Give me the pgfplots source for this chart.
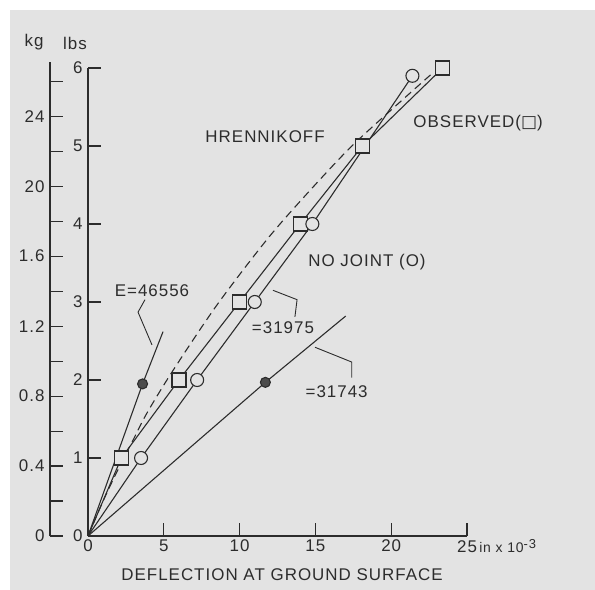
\documentclass[border=0pt]{standalone}
\usepackage{pgfplots}
\pgfplotsset{compat=1.18}
\usepackage{fontspec}
\setmainfont{Liberation Sans}[LetterSpace=6]
\newfontfamily\symfont{DejaVu Sans}
\definecolor{paper}{HTML}{E3E3E3}
\definecolor{ink}{HTML}{2C2C2C}
\begin{document}
\begin{tikzpicture}
% page and paper
\fill[white] (0bp,0bp) rectangle (595bp,590bp);
\fill[paper] (10bp,0bp) rectangle (595bp,580bp);
\useasboundingbox (0bp,0bp) rectangle (595bp,590bp);

% kg scale
\begin{axis}[
  at={(50bp,54bp)}, anchor=south west, scale only axis,
  width=20bp, height=474bp,
  xmin=0, xmax=1, ymin=0, ymax=2.71,
  hide x axis, axis y line*=left,
  axis line style={-, line width=1.1pt, draw=ink},
  tick align=inside, major tick length=13bp, minor tick length=13bp,
  tick style={line width=1.1pt, draw=ink},
  ytick={0,0.4,0.8,1.2,1.6,2.0,2.4},
  yticklabels={0,0.4,0.8,1.2,1.6,20,24},
  minor ytick={0.2,0.6,1.0,1.4,1.8,2.2,2.6},
  yticklabel style={font=\fontsize{17}{20}\selectfont, text=ink, xshift=-2bp},
]
\end{axis}

% lbs scale and data
\begin{axis}[
  at={(88bp,54bp)}, anchor=south west, scale only axis,
  width=379bp, height=468bp,
  xmin=0, xmax=25, ymin=0, ymax=6,
  axis x line*=bottom, axis y line*=left,
  axis line style={-, line width=1.1pt, draw=ink},
  tick align=inside, major tick length=13bp,
  tick style={line width=1.1pt, draw=ink},
  xtick={0,5,10,15,20,25},
  xticklabels={0,5,10,15,20,{25\rlap{\fontsize{14}{16}\selectfont\,in x 10\raisebox{0.55ex}{\fontsize{13}{15}\selectfont -3}}}},
  ytick={0,1,2,3,4,5,6},
  yticklabels={0,1,2,3,4,5,6},
  ticklabel style={font=\fontsize{17}{20}\selectfont, text=ink},
  yticklabel style={xshift=-2bp},
  clip=false,
  every axis plot/.append style={line width=1.1pt, draw=ink},
]
% Hrennikoff theory
\addplot[dashed, dash pattern=on 8bp off 5bp, smooth, tension=0.5, no marks]
  coordinates {(0,0) (1,0.45) (2,0.86) (3,1.24) (3.9,1.58) (5.6,2.12) (8.5,2.96)
               (11.8,3.8) (14.5,4.4) (17.3,4.98) (20.1,5.48) (22.7,5.93)};
% observed
\addplot[sharp plot, mark=square*, mark size=7bp, mark indices={2,3,4,5,6,7},
  mark options={solid, fill=paper, draw=ink, line width=1.1pt}]
  coordinates {(0,0) (2.2,1) (6,2) (10,3) (14,4) (18.1,5) (23.4,6)};
% no joint
\addplot[sharp plot, mark=*, mark size=6.5bp, mark indices={2,3,4,5,6},
  mark options={solid, fill=paper, draw=ink, line width=1.1pt}]
  coordinates {(0,0) (3.5,1) (7.2,2) (11,3) (14.8,4) (21.4,5.9)};
% E = 46556
\addplot[sharp plot, mark=*, mark size=5bp, mark indices={2},
  mark options={fill=ink!85, draw=ink}]
  coordinates {(0,0) (3.6,1.95) (4.95,2.62)};
% E = 31743
\addplot[sharp plot, mark=*, mark size=5bp, mark indices={2},
  mark options={fill=ink!85, draw=ink}]
  coordinates {(0,0) (11.7,1.97) (17.0,2.82)};

% leaders
\draw[ink, line width=0.9pt] (axis cs:3.76,3.03) -- (axis cs:3.3,2.87) -- (axis cs:4.22,2.45);
\draw[ink, line width=0.9pt] (axis cs:12.2,3.15) -- (axis cs:13.79,3.03) -- (axis cs:13.65,2.81);
\draw[ink, line width=0.9pt] (axis cs:14.97,2.42) -- (axis cs:17.4,2.23) -- (axis cs:17.4,2.03);

% labels
\begin{scope}[every node/.style={font=\fontsize{17}{20}\selectfont, text=ink, inner sep=0pt}]
\node at (axis cs:11.68,5.115) {HRENNIKOFF};
\node at (axis cs:25.73,5.295) {OBSERVED({\symfont □})};
\node at (axis cs:18.4,3.51) {NO JOINT (O)};
\node at (axis cs:4.22,3.14) {E=46556};
\node at (axis cs:12.86,2.67) {=31975};
\node at (axis cs:16.4,1.85) {=31743};
\node at (axis cs:12.8,-0.5) {DEFLECTION AT GROUND SURFACE};
\node at (axis cs:-3.56,6.33) {kg};
\node at (axis cs:-0.86,6.32) {lbs};
\end{scope}
\end{axis}
\end{tikzpicture}
\end{document}
